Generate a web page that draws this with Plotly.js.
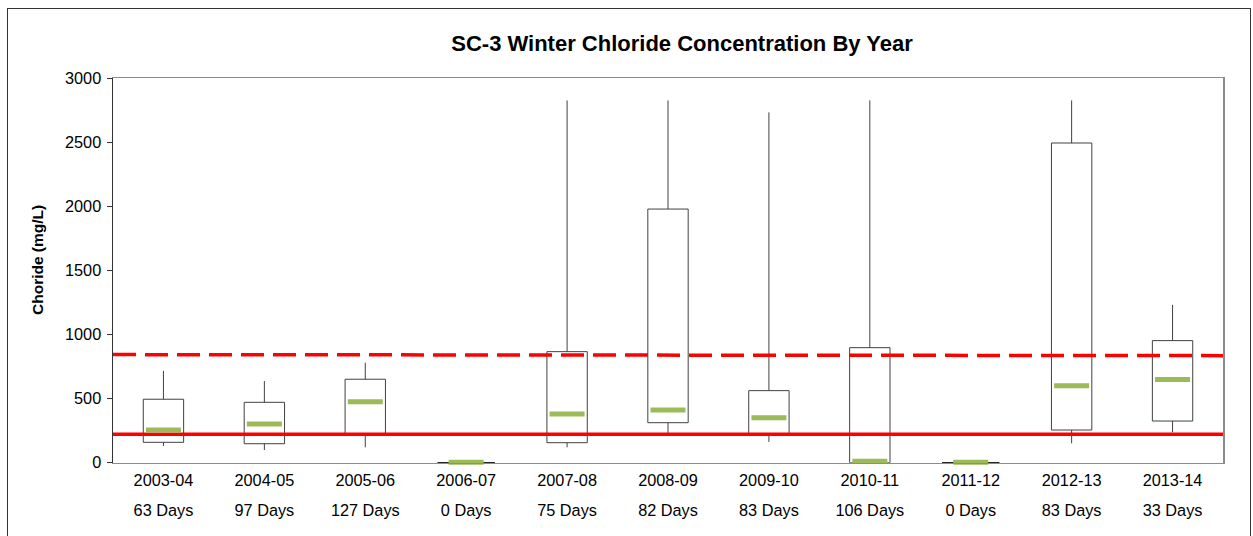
<!DOCTYPE html>
<html>
<head>
<meta charset="utf-8">
<script src="https://cdn.plot.ly/plotly-3.0.1.min.js"></script>
<style>
  html, body { margin: 0; padding: 0; background: #fff; overflow: hidden; }
  #chart { width: 1253px; height: 536px; position: absolute; left: 0; top: 0; }
  #frame { position: absolute; left: 7px; top: 8px; width: 1244px; height: 600px;
           border: 1.5px solid #333; pointer-events: none; box-sizing: border-box; }
</style>
</head>
<body>
<div id="chart"></div>
<div id="frame"></div>
<script>
// ---- data ----
const years = ['2003-04','2004-05','2005-06','2006-07','2007-08','2008-09','2009-10','2010-11','2011-12','2012-13','2013-14'];
const dayLabels = ['63 Days','97 Days','127 Days','0 Days','75 Days','82 Days','83 Days','106 Days','0 Days','83 Days','33 Days'];
const whiskerLow  = [130,  99, 120, 0, 120,  216, 162,   0, 0,  151,  237];
const boxLow      = [159, 148, 224, 0, 156,  312, 220,   0, 0,  255,  325];
const boxHigh     = [495, 471, 651, 0, 866, 1978, 562, 897, 0, 2493,  952];
const whiskerHigh = [716, 637, 780, 0, 2825, 2825, 2732, 2825, 0, 2825, 1231];
const centreValue = [255, 302, 476, 4, 380,  411, 351,  11, 4,  601,  648];
const chronicLimit = [222, 222];
const acuteLimit   = [843, 835];
const yTicks = [0, 500, 1000, 1500, 2000, 2500, 3000];

// ---- derived ----
const idx = years.map((_, i) => i);
const lineX = [-0.5, years.length - 0.5];
const FONT = '"Liberation Sans", Arial, sans-serif';
const TICK = 16.3;

const boxes = {
  type: 'bar', x: idx, base: boxLow, y: boxHigh.map((v, i) => v - boxLow[i]),
  width: 0.4, marker: { color: '#ffffff', line: { color: '#404040', width: 1 } },
  hoverinfo: 'skip', showlegend: false
};
const upperWhisker = {
  type: 'scatter', mode: 'markers', x: idx, y: boxHigh,
  marker: { size: 1, color: 'rgba(0,0,0,0)' },
  error_y: { type: 'data', symmetric: false, array: whiskerHigh.map((v, i) => v - boxHigh[i]),
             arrayminus: idx.map(() => 0), width: 0, thickness: 1, color: '#404040' },
  hoverinfo: 'skip', showlegend: false
};
const lowerWhisker = {
  type: 'scatter', mode: 'markers', x: idx, y: boxLow,
  marker: { size: 1, color: 'rgba(0,0,0,0)' },
  error_y: { type: 'data', symmetric: false, array: idx.map(() => 0),
             arrayminus: boxLow.map((v, i) => v - whiskerLow[i]), width: 0, thickness: 1, color: '#404040' },
  hoverinfo: 'skip', showlegend: false
};
const flatIdx = idx.filter(i => boxHigh[i] === boxLow[i]);
const flatBoxes = {
  type: 'scatter', mode: 'markers', x: flatIdx, y: flatIdx.map(i => boxHigh[i]),
  marker: { symbol: 'line-ew', size: 41, line: { color: '#222', width: 1.5 } },
  cliponaxis: false, hoverinfo: 'skip', showlegend: false
};
const chronic = {
  type: 'scatter', mode: 'lines', x: lineX, y: chronicLimit,
  line: { color: '#ff0000', width: 3.5 }, hoverinfo: 'skip', showlegend: false
};
const acute = {
  type: 'scatter', mode: 'lines', x: lineX, y: acuteLimit,
  line: { color: '#ff0000', width: 3.5, dash: '23px,9px' }, hoverinfo: 'skip', showlegend: false
};
const centres = {
  type: 'scatter', mode: 'markers', x: idx, y: centreValue,
  marker: { symbol: 'line-ew', size: 25, line: { color: '#9bbb59', width: 5 } },
  cliponaxis: false, hoverinfo: 'skip', showlegend: false
};

const H = 536, T = 78, B = 0;
const plotBottom = 462.7;
const paperH = H - T - B;
const yDomainStart = (H - B - plotBottom) / paperH;

const layout = {
  width: 1253, height: 536,
  margin: { l: 113, r: 30, t: T, b: B },
  paper_bgcolor: '#ffffff', plot_bgcolor: '#ffffff',
  font: { family: FONT, color: '#000', size: TICK },
  barmode: 'overlay',
  title: {
    text: 'SC-3 Winter Chloride Concentration By Year',
    font: { family: FONT, size: 22, weight: 'bold', color: '#000' },
    xref: 'container', yref: 'container', x: 682 / 1253, xanchor: 'center',
    y: 1 - 43 / 536, yanchor: 'middle'
  },
  xaxis: {
    range: [-0.5, years.length - 0.5], tickvals: idx, ticktext: years,
    showline: true, linecolor: '#8c8c8c', linewidth: 1.5, mirror: true,
    ticks: '', showgrid: false, zeroline: false, anchor: 'y', ticklabelstandoff: 2,
    tickfont: { family: FONT, size: TICK, color: '#000' }
  },
  xaxis2: {
    range: [-0.5, years.length - 0.5], tickvals: idx, ticktext: dayLabels,
    overlaying: 'x', anchor: 'free', position: (H - B - 499) / paperH,
    showline: false, ticks: '', showgrid: false, zeroline: false,
    tickfont: { family: FONT, size: TICK, color: '#000' }
  },
  yaxis: {
    domain: [yDomainStart, 1], range: [0, 3000], tickvals: yTicks,
    ticks: 'outside', ticklen: 5, tickcolor: '#333', tickwidth: 1, ticklabelstandoff: 2,
    showline: true, linecolor: '#333', linewidth: 1.5,
    showgrid: false, zeroline: false,
    tickfont: { family: FONT, size: TICK, color: '#000' }
  },
  yaxis2: {
    domain: [yDomainStart, 1], range: [0, 3000], overlaying: 'y', side: 'right',
    showline: true, linecolor: '#8c8c8c', linewidth: 1.5,
    showticklabels: false, ticks: '', showgrid: false, zeroline: false
  },
  annotations: [{
    text: 'Choride (mg/L)', textangle: -90, showarrow: false,
    xref: 'paper', yref: 'paper',
    x: (37.5 - 113) / (1253 - 113 - 30), xanchor: 'center',
    y: (H - B - 260.5) / paperH, yanchor: 'middle',
    font: { family: FONT, size: 15.5, weight: 'bold', color: '#000' }
  }],
  showlegend: false
};

// dummy trace so xaxis2 / yaxis2 are drawn
const axisCarrier = { type: 'scatter', mode: 'markers', x: [], y: [], xaxis: 'x2', yaxis: 'y2',
                      hoverinfo: 'skip', showlegend: false };

Plotly.newPlot('chart',
  [boxes, upperWhisker, lowerWhisker, chronic, acute, flatBoxes, centres, axisCarrier],
  layout, { displayModeBar: false, staticPlot: true });
</script>
</body>
</html>
